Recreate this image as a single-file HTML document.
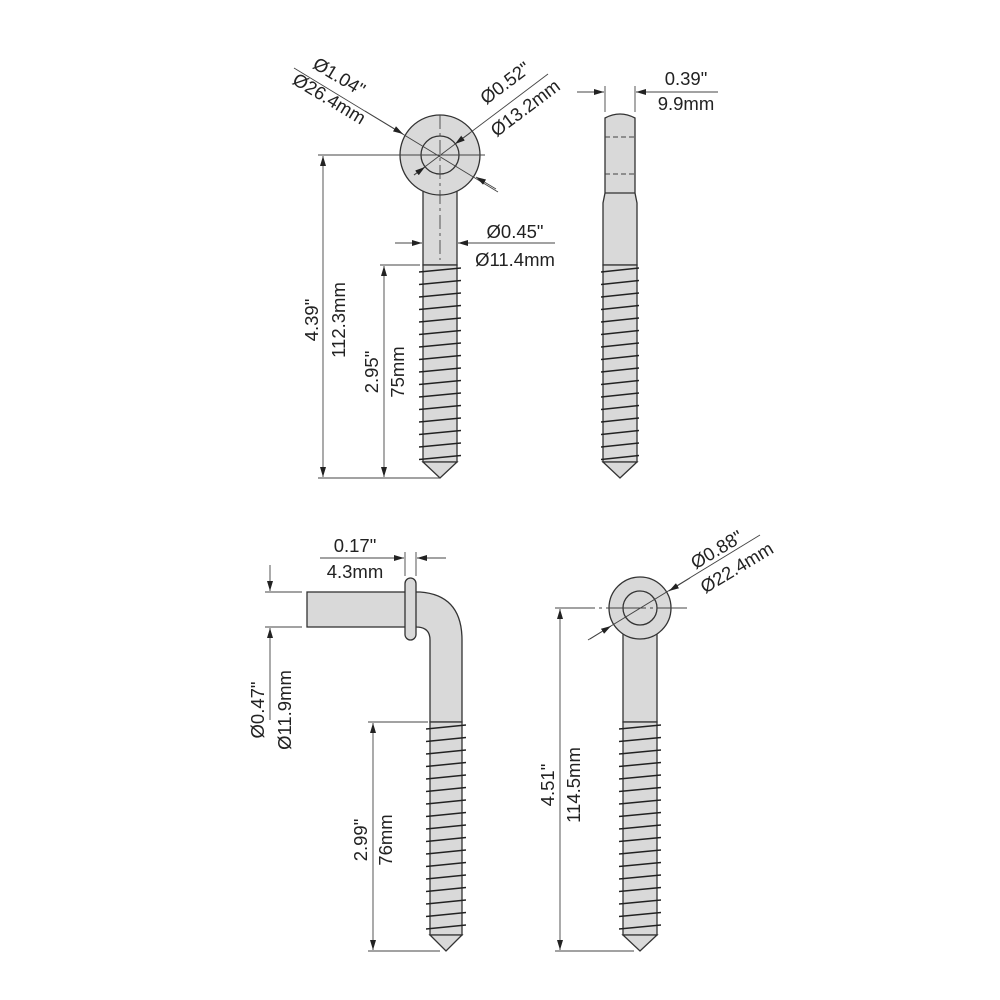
<!DOCTYPE html>
<html><head><style>
html,body{margin:0;padding:0;background:#fff;}
svg{display:block;}
text{font-family:"Liberation Sans",Arial,sans-serif;font-size:18.5px;fill:#222;}
</style></head><body>
<svg width="1000" height="1000" viewBox="0 0 1000 1000" xmlns="http://www.w3.org/2000/svg">
<defs>
<pattern id="tA" patternUnits="userSpaceOnUse" x="419" y="262" width="42" height="12.5"><path d="M0 10 L42 6" stroke="#222" stroke-width="1.6"/></pattern>
<pattern id="tB" patternUnits="userSpaceOnUse" x="601" y="262" width="38" height="12.5"><path d="M0 10 L38 6" stroke="#222" stroke-width="1.6"/></pattern>
<pattern id="tC" patternUnits="userSpaceOnUse" x="426" y="719" width="40" height="12.5"><path d="M0 10 L40 6" stroke="#222" stroke-width="1.6"/></pattern>
<pattern id="tD" patternUnits="userSpaceOnUse" x="619" y="719" width="42" height="12.5"><path d="M0 10 L42 6" stroke="#222" stroke-width="1.6"/></pattern>
<marker id="ar" viewBox="0 0 10 6" refX="10" refY="3" markerWidth="10" markerHeight="6" orient="auto-start-reverse" markerUnits="userSpaceOnUse"><path d="M0 0 L10 3 L0 6z" fill="#222"/></marker>
</defs>
<g stroke="#333" stroke-width="1.3" fill="#d9d9d9">
<rect x="423" y="190" width="34" height="75"/>
<circle cx="440" cy="155" r="40"/>
<circle cx="440" cy="155" r="19" fill="none"/>
<rect x="423" y="265" width="34" height="197"/>
<rect x="419" y="265" width="42" height="197" fill="url(#tA)" stroke="none"/>
<polygon points="423,462 457,462 440,478"/>
<path d="M605 118 Q620 110 635 118 L635 193 L637 203 L637 265 L603 265 L603 203 L605 193 Z"/>
<line x1="605" y1="193" x2="635" y2="193"/>
<rect x="603" y="265" width="34" height="197"/>
<rect x="601" y="265" width="38" height="197" fill="url(#tB)" stroke="none"/>
<polygon points="603,462 637,462 620,478"/>
<rect x="307" y="592" width="100" height="35"/>
<path d="M414 592 L420 592 Q462 595 462 640 L462 722 L430 722 L430 640 Q430 627 416 627 Z"/>
<rect x="405" y="578" width="11" height="62" rx="5.5"/>
<rect x="430" y="722" width="32" height="213"/>
<rect x="426" y="722" width="40" height="213" fill="url(#tC)" stroke="none"/>
<polygon points="430,935 462,935 446,951"/>
<rect x="623" y="630" width="34" height="92"/>
<circle cx="640" cy="608" r="31"/>
<circle cx="640" cy="608" r="17" fill="none"/>
<rect x="623" y="722" width="34" height="213"/>
<rect x="619" y="722" width="42" height="213" fill="url(#tD)" stroke="none"/>
<polygon points="623,935 657,935 640,951"/>
</g>
<g stroke="#444" stroke-width="0.9" fill="none">
<line x1="440" y1="115" x2="440" y2="260" stroke-dasharray="14 4 3 4"/>
<line x1="395" y1="155" x2="485" y2="155"/>
<path d="M605 137 H635 M605 174 H635" stroke-dasharray="5 3"/>
<line x1="555" y1="608" x2="687" y2="608" stroke-dasharray="40 4 3 4"/>
<line x1="318" y1="155" x2="395" y2="155"/>
<line x1="318" y1="478" x2="440" y2="478"/>
<line x1="323" y1="156" x2="323" y2="477" marker-start="url(#ar)" marker-end="url(#ar)"/>
<line x1="380" y1="265" x2="420" y2="265"/>
<line x1="384" y1="266" x2="384" y2="477" marker-start="url(#ar)" marker-end="url(#ar)"/>
<line x1="294" y1="68" x2="498" y2="192"/>
<line x1="365" y1="111" x2="403" y2="134" marker-end="url(#ar)"/>
<line x1="476" y1="177" x2="496" y2="189" marker-start="url(#ar)"/>
<line x1="548" y1="74" x2="414" y2="175"/>
<line x1="470" y1="133" x2="455" y2="144" marker-end="url(#ar)"/>
<line x1="414" y1="175" x2="425" y2="167" marker-end="url(#ar)"/>
<line x1="395" y1="243" x2="422" y2="243" marker-end="url(#ar)"/>
<line x1="458" y1="243" x2="555" y2="243" marker-start="url(#ar)"/>
<line x1="605" y1="86" x2="605" y2="112"/>
<line x1="635" y1="86" x2="635" y2="112"/>
<line x1="577" y1="92" x2="604" y2="92" marker-end="url(#ar)"/>
<line x1="636" y1="92" x2="718" y2="92" marker-start="url(#ar)"/>
<line x1="405" y1="552" x2="405" y2="576"/>
<line x1="416" y1="552" x2="416" y2="576"/>
<line x1="320" y1="558" x2="404" y2="558" marker-end="url(#ar)"/>
<line x1="417" y1="558" x2="446" y2="558" marker-start="url(#ar)"/>
<line x1="265" y1="592" x2="302" y2="592"/>
<line x1="265" y1="627" x2="302" y2="627"/>
<line x1="270" y1="565" x2="270" y2="591" marker-end="url(#ar)"/>
<line x1="270" y1="628" x2="270" y2="720" marker-start="url(#ar)"/>
<line x1="368" y1="722" x2="428" y2="722"/>
<line x1="368" y1="951" x2="440" y2="951"/>
<line x1="373" y1="723" x2="373" y2="950" marker-start="url(#ar)" marker-end="url(#ar)"/>
<line x1="555" y1="951" x2="634" y2="951"/>
<line x1="560" y1="609" x2="560" y2="950" marker-start="url(#ar)" marker-end="url(#ar)"/>
<line x1="588" y1="640" x2="760" y2="535"/>
<line x1="590" y1="639" x2="611" y2="626" marker-end="url(#ar)"/>
<line x1="690" y1="578" x2="669" y2="591" marker-end="url(#ar)"/>
</g>
<text transform="translate(336,82) rotate(31)" text-anchor="middle">Ø1.04"</text>
<text transform="translate(326,104) rotate(31)" text-anchor="middle">Ø26.4mm</text>
<text transform="translate(509,88) rotate(-37)" text-anchor="middle">Ø0.52"</text>
<text transform="translate(529,113) rotate(-37)" text-anchor="middle">Ø13.2mm</text>
<text x="515" y="238" text-anchor="middle">Ø0.45"</text>
<text x="515" y="266" text-anchor="middle">Ø11.4mm</text>
<text transform="translate(318,320) rotate(-90)" text-anchor="middle">4.39"</text>
<text transform="translate(345,320) rotate(-90)" text-anchor="middle">112.3mm</text>
<text transform="translate(378,372) rotate(-90)" text-anchor="middle">2.95"</text>
<text transform="translate(404,372) rotate(-90)" text-anchor="middle">75mm</text>
<text x="686" y="85" text-anchor="middle">0.39"</text>
<text x="686" y="110" text-anchor="middle">9.9mm</text>
<text x="355" y="552" text-anchor="middle">0.17"</text>
<text x="355" y="578" text-anchor="middle">4.3mm</text>
<text transform="translate(264,710) rotate(-90)" text-anchor="middle">Ø0.47"</text>
<text transform="translate(291,710) rotate(-90)" text-anchor="middle">Ø11.9mm</text>
<text transform="translate(367,840) rotate(-90)" text-anchor="middle">2.99"</text>
<text transform="translate(392,840) rotate(-90)" text-anchor="middle">76mm</text>
<text transform="translate(554,785) rotate(-90)" text-anchor="middle">4.51"</text>
<text transform="translate(580,785) rotate(-90)" text-anchor="middle">114.5mm</text>
<text transform="translate(720,555) rotate(-31)" text-anchor="middle">Ø0.88"</text>
<text transform="translate(740,573) rotate(-31)" text-anchor="middle">Ø22.4mm</text>
</svg>
</body></html>
